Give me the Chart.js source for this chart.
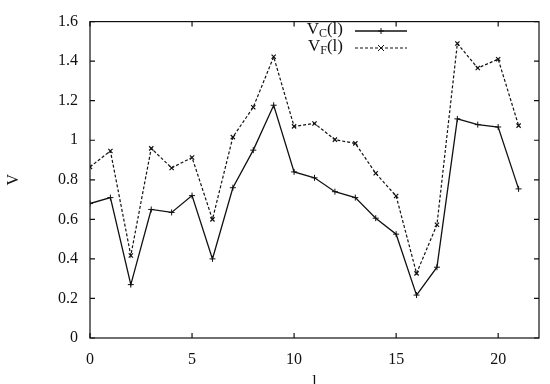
<!DOCTYPE html>
<html>
<head>
<meta charset="utf-8">
<script src="https://cdn.jsdelivr.net/npm/chart.js@4.4.1/dist/chart.umd.min.js"></script>
<style>
  html, body { margin: 0; padding: 0; background: #fff; }
  #wrap { width: 550px; height: 384px; }
</style>
</head>
<body>
<div id="wrap"><canvas id="vChart"></canvas></div>
<script>
// data
const lValues = [0, 1, 2, 3, 4, 5, 6, 7, 8, 9, 10, 11, 12, 13, 14, 15, 16, 17, 18, 19, 20, 21];
const vcValues = [0.68, 0.71, 0.27, 0.65, 0.635, 0.72, 0.40, 0.76, 0.95, 1.177, 0.84, 0.81, 0.74, 0.71, 0.606, 0.525, 0.217, 0.358, 1.108, 1.079, 1.067, 0.754];
const vfValues = [0.865, 0.946, 0.417, 0.959, 0.86, 0.913, 0.60, 1.016, 1.167, 1.422, 1.07, 1.085, 1.003, 0.984, 0.833, 0.718, 0.327, 0.573, 1.489, 1.365, 1.41, 1.074];
const yTicks = [0, 0.2, 0.4, 0.6, 0.8, 1, 1.2, 1.4, 1.6];
const xTicks = [0, 5, 10, 15, 20];

const FONT = "'Liberation Serif', 'DejaVu Serif', serif";
const INK = '#111';

// gnuplot-like frame: box + inward ticks on all four sides
const frameTicks = {
    id: 'frameTicks',
    afterDraw(chart) {
        const { ctx, chartArea: a, scales } = chart;
        ctx.save();
        ctx.strokeStyle = INK;
        ctx.lineWidth = 1.2;
        ctx.strokeRect(a.left, a.top, a.right - a.left, a.bottom - a.top);
        const len = 5;
        ctx.beginPath();
        scales.x.ticks.forEach(t => {
            const px = scales.x.getPixelForValue(t.value);
            ctx.moveTo(px, a.bottom); ctx.lineTo(px, a.bottom - len);
            ctx.moveTo(px, a.top); ctx.lineTo(px, a.top + len);
        });
        scales.y.ticks.forEach(t => {
            const py = scales.y.getPixelForValue(t.value);
            ctx.moveTo(a.left, py); ctx.lineTo(a.left + len, py);
            ctx.moveTo(a.right, py); ctx.lineTo(a.right - len, py);
        });
        ctx.stroke();
        ctx.restore();
    }
};

// legend with subscripts, gnuplot style (text right, sample line left)
const subLegend = {
    id: 'subLegend',
    afterDraw(chart) {
        const ctx = chart.ctx;
        const entries = [
            { main: 'V', sub: 'C', ds: chart.data.datasets[0], y: 31 },
            { main: 'V', sub: 'F', ds: chart.data.datasets[1], y: 48 }
        ];
        const textRight = 343, lineL = 355, lineR = 407;
        const big = '17px ' + FONT, small = '12px ' + FONT;
        ctx.save();
        ctx.fillStyle = INK;
        ctx.textBaseline = 'middle';
        entries.forEach(e => {
            ctx.font = big;
            const wMain = ctx.measureText(e.main).width;
            const wTail = ctx.measureText('(l)').width;
            ctx.font = small;
            const wSub = ctx.measureText(e.sub).width;
            let x = textRight - wMain - wSub - wTail;
            ctx.font = big;
            ctx.fillText(e.main, x, e.y - 1);
            x += wMain;
            ctx.font = small;
            ctx.fillText(e.sub, x, e.y + 3);
            x += wSub;
            ctx.font = big;
            ctx.fillText('(l)', x, e.y - 1);

            ctx.strokeStyle = INK;
            ctx.lineWidth = e.ds.borderWidth;
            ctx.setLineDash(e.ds.borderDash || []);
            ctx.beginPath();
            ctx.moveTo(lineL, e.y); ctx.lineTo(lineR, e.y);
            ctx.stroke();
            ctx.setLineDash([]);
            const mx = (lineL + lineR) / 2, r = 3;
            ctx.lineWidth = 1;
            ctx.beginPath();
            if (e.ds.pointStyle === 'cross') {
                ctx.moveTo(mx - r, e.y); ctx.lineTo(mx + r, e.y);
                ctx.moveTo(mx, e.y - r); ctx.lineTo(mx, e.y + r);
            } else {
                ctx.moveTo(mx - r, e.y - r); ctx.lineTo(mx + r, e.y + r);
                ctx.moveTo(mx - r, e.y + r); ctx.lineTo(mx + r, e.y - r);
            }
            ctx.stroke();
        });
        ctx.restore();
    }
};

new Chart(document.getElementById('vChart'), {
    type: 'line',
    data: {
        datasets: [
            {
                label: 'V_C(l)',
                data: lValues.map((l, i) => ({ x: l, y: vcValues[i] })),
                borderColor: INK,
                borderWidth: 1.3,
                pointStyle: 'cross',
                pointRadius: 3,
                pointBorderWidth: 1,
                pointBorderColor: INK,
                tension: 0
            },
            {
                label: 'V_F(l)',
                data: lValues.map((l, i) => ({ x: l, y: vfValues[i] })),
                borderColor: INK,
                borderWidth: 1.2,
                borderDash: [3, 2],
                pointStyle: 'crossRot',
                pointRadius: 3,
                pointBorderWidth: 1.2,
                pointBorderColor: INK,
                tension: 0
            }
        ]
    },
    options: {
        responsive: true,
        maintainAspectRatio: false,
        animation: false,
        layout: { padding: { top: 13, right: 11, left: 0, bottom: 0 } },
        plugins: {
            legend: { display: false },
            tooltip: { enabled: false }
        },
        scales: {
            x: {
                type: 'linear',
                min: 0,
                max: 22,
                afterBuildTicks: s => { s.ticks = xTicks.map(v => ({ value: v })); },
                afterFit: s => { s.height = 46; },
                grid: { display: false, drawTicks: false },
                border: { display: false },
                ticks: { color: INK, font: { family: FONT, size: 16 }, padding: 12, maxRotation: 0 },
                title: { display: true, text: 'l', color: INK, font: { family: FONT, size: 16 }, padding: { top: 0, bottom: -8 } }
            },
            y: {
                type: 'linear',
                min: 0,
                max: 1.6,
                afterBuildTicks: s => { s.ticks = yTicks.map(v => ({ value: v })); },
                afterFit: s => { s.width = 90; },
                grid: { display: false, drawTicks: false },
                border: { display: false },
                ticks: {
                    color: INK,
                    font: { family: FONT, size: 16 },
                    padding: 12,
                    callback: v => String(Math.round(v * 10) / 10)
                },
                title: { display: true, text: 'V', color: INK, font: { family: FONT, size: 16 }, padding: { top: 4, bottom: 0 } }
            }
        }
    },
    plugins: [frameTicks, subLegend]
});
</script>
</body>
</html>
